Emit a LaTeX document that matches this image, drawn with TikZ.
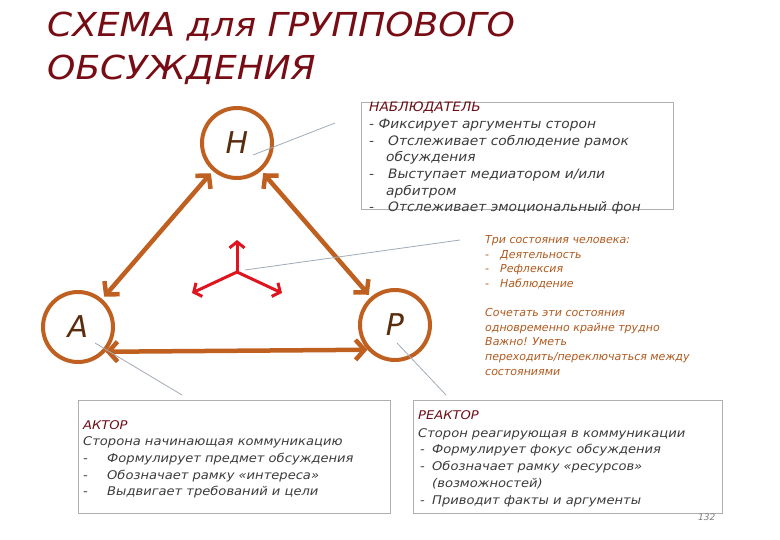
\documentclass[tikz,border=0pt]{standalone}
\usepackage{fontspec}
\setmainfont{DejaVu Sans}
\newfontfamily\titlefont[FakeStretch=1.09]{DejaVu Sans}
\newfontfamily\boxfont[FakeStretch=1.09]{DejaVu Sans}
\newfontfamily\obsfont[FakeStretch=1.06]{DejaVu Sans}
\usetikzlibrary{arrows.meta}
\definecolor{ttl}{RGB}{120,12,20}
\definecolor{brn}{RGB}{192,96,32}
\definecolor{ltr}{RGB}{90,45,15}
\definecolor{txt}{RGB}{60,60,60}
\definecolor{hdr}{RGB}{110,15,25}
\definecolor{stt}{RGB}{176,90,30}
\definecolor{redc}{RGB}{224,20,30}
\definecolor{cline}{RGB}{160,172,184}
\definecolor{bord}{RGB}{175,175,175}
\begin{document}
\begin{tikzpicture}[x=1pt,y=-1pt,
  role/.style={circle, draw=brn, line width=4pt, minimum size=70pt, inner sep=0pt,
    font=\fontsize{30}{30}\selectfont\itshape, text=ltr},
  link/.style={draw=brn, line width=4.5pt,
    arrows={Straight Barb[length=9pt,width=20pt]-Straight Barb[length=9pt,width=20pt]}},
  redarr/.style={draw=redc, line width=3pt, -{Straight Barb[length=6pt,width=15pt]}},
  callout/.style={draw=cline, line width=0.8pt},
  box/.style={draw=bord, line width=0.8pt, anchor=north west, inner sep=0pt},
  bt/.style={anchor=base west, inner sep=0pt, font=\boxfont\fontsize{12}{12}\selectfont\itshape, text=txt},
  bh/.style={bt, text=hdr},
  ot/.style={anchor=base west, inner sep=0pt, font=\obsfont\fontsize{13}{13}\selectfont\itshape, text=txt},
  oh/.style={ot, text=hdr},
  st/.style={anchor=base west, inner sep=0pt, font=\fontsize{11}{11}\selectfont\itshape, text=stt},
  title/.style={anchor=base west, inner sep=0pt, font=\titlefont\fontsize{33}{33}\selectfont\itshape, text=ttl}
]
\useasboundingbox (0,0) rectangle (780,540);
\fill[white] (0,0) rectangle (780,540);

% title
\node[title] (t1) at (47,37) {СХЕМА для ГРУППОВОГО};
\node[title] (t2) at (47,80) {ОБСУЖДЕНИЯ};

% boxes
\node[box, minimum width=312pt, minimum height=107pt] (obsbox) at (361,102) {};
\node[box, minimum width=312pt, minimum height=113pt] (actbox) at (78,400) {};
\node[box, minimum width=309pt, minimum height=113pt] (reabox) at (413,400) {};

% circles
\node[role] (N) at (237,143) {Н};
\node[role] (A) at (78,327) {А};
\node[role] (P) at (395,325) {Р};

% links
\draw[link, shorten <=3pt, shorten >=3pt] (N) -- (A);
\draw[link, shorten <=3pt, shorten >=3pt] (N) -- (P);
\draw[link] (A.-42) -- (P.-138);

% red symbol
\coordinate (rc) at (237,272);
\coordinate (ru) at (237,240);
\coordinate (rl) at (192,293);
\coordinate (rr) at (282,293);
\draw[redarr] (rc) -- (ru);
\draw[redarr] (rc) -- (rl);
\draw[redarr] (rc) -- (rr);

% callouts
\coordinate (c1a) at (253,155); \coordinate (c1b) at (335,123);
\coordinate (c2a) at (245,270); \coordinate (c2b) at (460,240);
\coordinate (c3a) at (95,343);  \coordinate (c3b) at (182,395);
\coordinate (c4a) at (397,343); \coordinate (c4b) at (446,395);
\draw[callout] (c1a) -- (c1b);
\draw[callout] (c2a) -- (c2b);
\draw[callout] (c3a) -- (c3b);
\draw[callout] (c4a) -- (c4b);

% observer text
\node[oh] (o1) at (369,112) {НАБЛЮДАТЕЛЬ};
\node[ot] (o2) at (369,129) {- Фиксирует аргументы сторон};
\node[ot] (o3) at (369,146) {\makebox[19pt][l]{-}Отслеживает соблюдение рамок};
\node[ot] (o4) at (386,162) {обсуждения};
\node[ot] (o5) at (369,179) {\makebox[19pt][l]{-}Выступает медиатором и/или};
\node[ot] (o6) at (386,196) {арбитром};
\node[ot] (o7) at (369,212) {\makebox[19pt][l]{-}Отслеживает эмоциональный фон};

% actor text
\node[bh] (a1) at (83,429) {АКТОР};
\node[bt] (a2) at (83,445.5) {Сторона начинающая коммуникацию};
\node[bt] (a3) at (83,462) {\makebox[24pt][l]{-}Формулирует предмет обсуждения};
\node[bt] (a4) at (83,479) {\makebox[24pt][l]{-}Обозначает рамку «интереса»};
\node[bt] (a5) at (83,495) {\makebox[24pt][l]{-}Выдвигает требований и цели};

% reactor text
\node[bh] (r1) at (418,420) {РЕАКТОР};
\node[bt] (r2) at (418,437) {Сторон реагирующая в коммуникации};
\node[bt] (r3) at (420,453) {\makebox[12pt][l]{-}Формулирует фокус обсуждения};
\node[bt] (r4) at (420,470) {\makebox[12pt][l]{-}Обозначает рамку «ресурсов»};
\node[bt] (r5) at (432,487) {(возможностей)};
\node[bt] (r6) at (420,504) {\makebox[12pt][l]{-}Приводит факты и аргументы};

% states text
\node[st] (s1) at (485,244) {Три состояния человека:};
\node[st] (s2) at (485,258.5) {\makebox[15pt][l]{-}Деятельность};
\node[st] (s3) at (485,273) {\makebox[15pt][l]{-}Рефлексия};
\node[st] (s4) at (485,287.5) {\makebox[15pt][l]{-}Наблюдение};
\node[st] (s5) at (485,317) {Сочетать эти состояния};
\node[st] (s6) at (485,331.5) {одновременно крайне трудно};
\node[st] (s7) at (485,346) {Важно! Уметь};
\node[st] (s8) at (485,360.5) {переходить/переключаться между};
\node[st] (s9) at (485,375) {состояниями};

% page number
\node[anchor=base west, inner sep=0pt, font=\fontsize{9}{9}\selectfont\itshape, text=gray] (pg) at (698,520) {132};
\end{tikzpicture}
\end{document}
